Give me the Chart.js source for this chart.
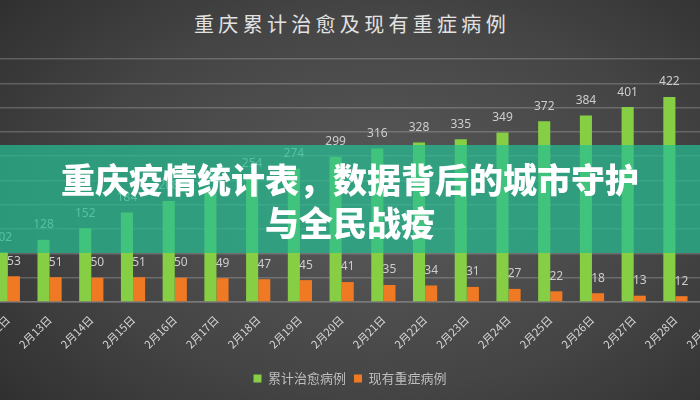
<!DOCTYPE html>
<html>
<head>
<meta charset="utf-8">
<script src="https://cdn.jsdelivr.net/npm/chart.js@4/dist/chart.umd.min.js"></script>
<style>
  html, body { margin: 0; padding: 0; }
  body {
    width: 700px; height: 400px; overflow: hidden; position: relative;
    background: radial-gradient(ellipse 75% 85% at 54% 50%, #5a5a5a 0%, #454545 55%, #2c2c2c 100%);
    font-family: 'Noto Sans CJK SC', sans-serif;
  }
  #title {
    position: absolute; top: 8px; left: 0; width: 700px; box-sizing: border-box;
    padding-left: 4px; text-align: center; color: #e2e2e2;
    font-size: 20px; line-height: 32px; letter-spacing: 4.3px;
  }
  #wrap { position: absolute; left: -38px; top: 0; width: 776px; height: 400px; }
  #banner {
    position: absolute; left: 0; top: 145px; width: 700px; height: 108px; box-sizing: border-box;
    padding-top: 12px; background: rgba(38,190,145,0.72); color: #fff;
    text-align: center; font-size: 34px; font-weight: 900; line-height: 43px;
  }
</style>
</head>
<body>
<div id="title">重庆累计治愈及现有重症病例</div>
<div id="wrap"><canvas id="chart"></canvas></div>
<div id="banner">重庆疫情统计表，数据背后的城市守护<br>与全民战疫</div>
<script>
const days = ['2月12日','2月13日','2月14日','2月15日','2月16日','2月17日','2月18日','2月19日','2月20日',
  '2月21日','2月22日','2月23日','2月24日','2月25日','2月26日','2月27日','2月28日','2月29日'];
const cured = [102, 128, 152, 184, 208, 230, 254, 274, 299, 316, 328, 335, 349, 372, 384, 401, 422, null];
const severe = [53, 51, 50, 51, 50, 49, 47, 45, 41, 35, 34, 31, 27, 22, 18, 13, 12, null];

// value above each bar
const valueLabels = {
  id: 'valueLabels',
  afterDatasetsDraw(chart) {
    const ctx = chart.ctx;
    ctx.save();
    ctx.font = "12px 'Noto Sans', sans-serif";
    ctx.fillStyle = '#cdcdcd';
    ctx.textAlign = 'center';
    ctx.textBaseline = 'bottom';
    chart.data.datasets.forEach((ds, i) => {
      chart.getDatasetMeta(i).data.forEach((bar, j) => {
        const v = ds.data[j];
        if (v == null) return;
        ctx.fillText(v, bar.x, bar.y - 9);
      });
    });
    ctx.restore();
  }
};

new Chart(document.getElementById('chart'), {
  type: 'bar',
  data: {
    labels: days,
    datasets: [
      { label: '累计治愈病例', data: cured, backgroundColor: '#86cf45', borderWidth: 0,
        categoryPercentage: 0.58, barPercentage: 1.0 },
      { label: '现有重症病例', data: severe, backgroundColor: '#f07a23', borderWidth: 0,
        categoryPercentage: 0.58, barPercentage: 1.0 }
    ]
  },
  options: {
    responsive: true, maintainAspectRatio: false, animation: false,
    layout: { padding: { left: 0, right: 0, top: 59, bottom: 5 } },
    plugins: {
      legend: {
        position: 'bottom',
        labels: { color: '#bdbdbd', boxWidth: 8, boxHeight: 8, padding: 8,
          font: { size: 13, family: "'Noto Sans CJK SC', sans-serif" } }
      },
      tooltip: { enabled: false }
    },
    scales: {
      x: {
        grid: { display: false },
        border: { color: '#7a7a7a', width: 1.5 },
        ticks: { autoSkip: false, minRotation: 45, maxRotation: 45, color: '#d6d6d6',
          font: { size: 11, family: "'Noto Sans CJK SC', sans-serif" } },
        afterFit: s => { s.height = 93 - s.chart.legend.height; }
      },
      y: {
        min: 0, max: 500,
        ticks: { display: false, stepSize: 50 },
        grid: { color: 'rgba(255,255,255,0.2)', lineWidth: 1.5, drawTicks: false },
        border: { display: false },
        afterFit: s => { s.width = 25; }
      }
    }
  },
  plugins: [valueLabels]
});
</script>
</body>
</html>
